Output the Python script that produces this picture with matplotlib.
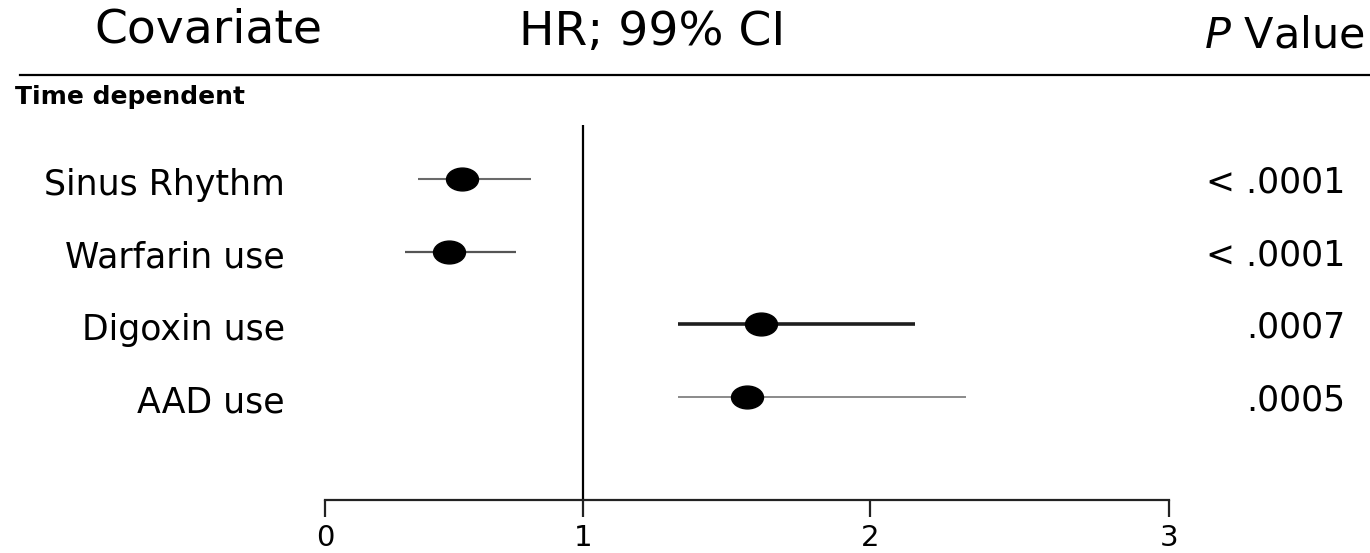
import numpy as np
import matplotlib
matplotlib.use('Agg')
import matplotlib.pyplot as plt
from matplotlib.path import Path
from matplotlib.transforms import Affine2D, blended_transform_factory
from matplotlib.lines import Line2D

plt.rcParams['font.family'] = ['DejaVu Sans']

covariates = ['Sinus Rhythm', 'Warfarin use', 'Digoxin use', 'AAD use']
hr = [0.53, 0.48, 1.62, 1.57]
ci_low = [0.36, 0.31, 1.33, 1.33]
ci_high = [0.80, 0.74, 2.15, 2.32]
p_values = ['< .0001', '< .0001', '.0007', '.0005']
ci_colors = ['#6a6a6a', '#555555', '#1e1e1e', '#8a8a8a']
ci_widths = [1.5, 1.6, 2.6, 1.4]
xticks = [0, 1, 2, 3]

# the scanned axis is not quite linear: pixel spacing of the 0-1-2-3 ticks
tick_px = [0, 258, 545, 844]
def fwd(x):
    return np.interp(x, xticks, tick_px)
def inv(y):
    return np.interp(y, tick_px, xticks)

fig = plt.figure(figsize=(13.7, 5.53), dpi=100)
ax = fig.add_axes([325/1370, 1 - 500/553, 844/1370, 375/553])
ax.set_xscale('function', functions=(fwd, inv))
ax.set_xlim(0, 3)
ax.set_ylim(4.417, -0.743)

oval = Path.unit_circle().transformed(Affine2D().scale(1.4, 1.0))
rows = np.arange(len(covariates))
for i in rows:
    ax.plot([ci_low[i], ci_high[i]], [i, i], color=ci_colors[i], lw=ci_widths[i],
            solid_capstyle='butt', zorder=2)
    ax.plot(hr[i], i, marker=oval, ms=23, color='black', zorder=3)

ax.axvline(1, color='black', lw=1.6, zorder=1)

for s in ['top', 'right', 'left']:
    ax.spines[s].set_visible(False)
ax.spines['bottom'].set_linewidth(1.6)
ax.spines['bottom'].set_color('#222222')
ax.set_yticks([])
ax.set_xticks(xticks)
ax.set_xticklabels([str(t) for t in xticks], fontsize=21)
ax.tick_params(axis='x', direction='out', length=12, width=1.6, pad=5, color='#222222')

lab_tr = blended_transform_factory(fig.transFigure, ax.transData)
for i in rows:
    ax.text(285/1370, i + 0.08, covariates[i], transform=lab_tr, ha='right', va='center',
            fontsize=25)
    ax.text(1345/1370, i + 0.05, p_values[i], transform=lab_tr, ha='right', va='center',
            fontsize=25)

fig.text(208/1370, 1 - 30/553, 'Covariate', ha='center', va='center', fontsize=34)
fig.text(652/1370, 1 - 32/553, 'HR; 99% CI', ha='center', va='center', fontsize=34)
fig.text(1365/1370, 1 - 35/553, '$\\it{P}$ Value', ha='right', va='center', fontsize=31)
fig.add_artist(Line2D([20/1370, 1], [1 - 75/553, 1 - 75/553], transform=fig.transFigure,
                      color='black', lw=1.6))
fig.text(15/1370, 1 - 97/553, 'Time dependent', ha='left', va='center', fontsize=18,
         fontweight='bold')

fig.savefig('out.png', dpi=100, facecolor='white')
